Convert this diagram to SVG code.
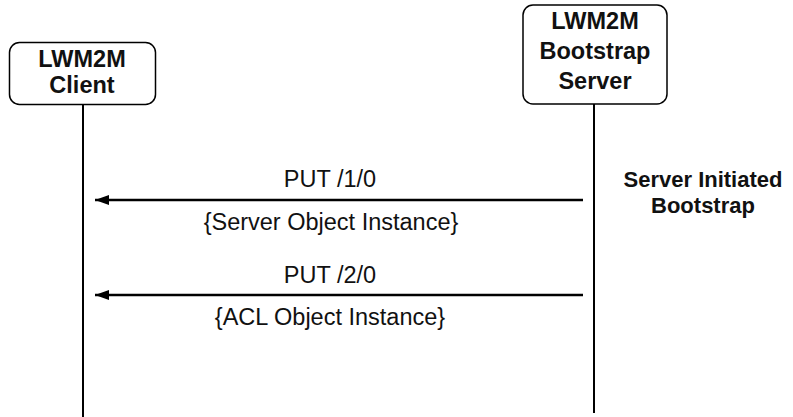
<svg xmlns="http://www.w3.org/2000/svg" width="793" height="417" viewBox="0 0 793 417">
<defs>
<style>
.box{fill:#fff;stroke:#000;stroke-width:1.5}
.life{stroke:#000;stroke-width:2;fill:none}
.msg{stroke:#000;stroke-width:2.5;fill:none}
.b{font-family:"Liberation Sans",Arial,sans-serif;font-weight:bold;font-size:23.5px;text-anchor:middle;fill:#111}
.n{font-family:"Liberation Sans",Arial,sans-serif;font-weight:bold;font-size:22px;text-anchor:middle;fill:#111}
.t{font-family:"Liberation Sans",Arial,sans-serif;font-size:23.5px;text-anchor:middle;fill:#111}
</style>
<marker id="ah" markerWidth="14" markerHeight="10" refX="14" refY="5" orient="auto" markerUnits="userSpaceOnUse">
<path d="M0,0 L14,5 L0,10 Z" fill="#000"/>
</marker>
</defs>
<rect width="793" height="417" fill="#fff"/>
<g id="connectors">
<line class="life" x1="83" y1="105" x2="83" y2="417"/>
<line class="life" x1="594" y1="104" x2="594" y2="413"/>
<line class="msg" x1="583" y1="200" x2="95" y2="200" marker-end="url(#ah)"/>
<line class="msg" x1="583" y1="295" x2="95" y2="295" marker-end="url(#ah)"/>
<text class="t" x="330" y="187">PUT /1/0</text>
<text class="t" x="331" y="230">{Server Object Instance}</text>
<text class="t" x="330" y="283">PUT /2/0</text>
<text class="t" x="330" y="325">{ACL Object Instance}</text>
</g>
<g id="client">
<rect class="box" x="9.5" y="42.5" width="146" height="62" rx="10"/>
<text class="b" x="82" y="67">LWM2M</text>
<text class="b" x="82" y="93">Client</text>
</g>
<g id="server">
<rect class="box" x="523" y="5" width="144" height="99" rx="10"/>
<text class="b" x="595" y="29">LWM2M</text>
<text class="b" x="595" y="59">Bootstrap</text>
<text class="b" x="595" y="89">Server</text>
</g>
<g id="note">
<text class="n" x="703" y="187">Server Initiated</text>
<text class="n" x="703" y="213">Bootstrap</text>
</g>
</svg>
